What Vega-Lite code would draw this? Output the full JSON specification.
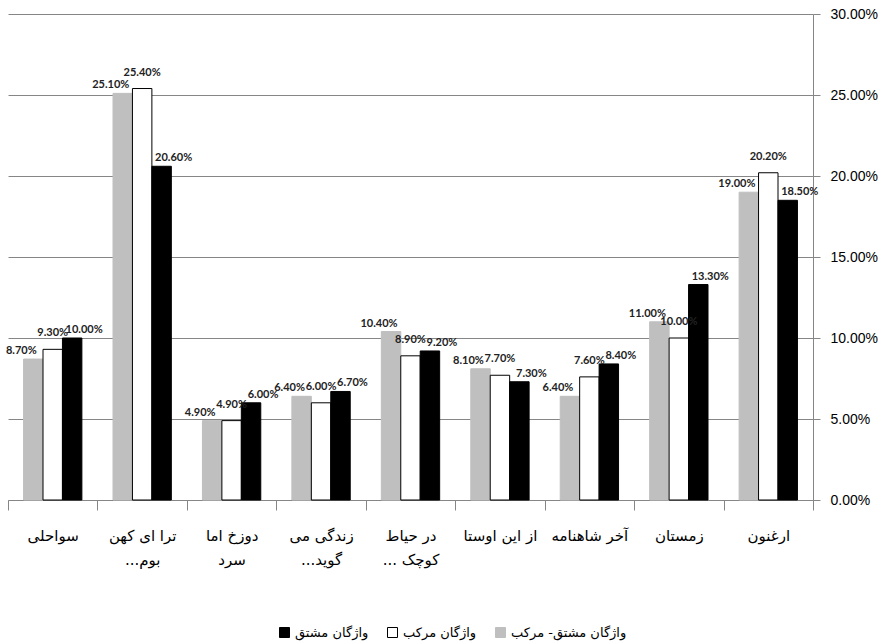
{
  "$schema": "https://vega.github.io/schema/vega-lite/v6.json",
  "width": 805,
  "height": 486,
  "autosize": "none",
  "padding": {"left": 8, "top": 14, "right": 69, "bottom": 144},
  "background": "white",
  "data": {
    "values": [
      {"cat": "سواحلی", "series": "واژگان مشتق- مرکب", "value": 0.087},
      {"cat": "سواحلی", "series": "واژگان مرکب", "value": 0.093},
      {"cat": "سواحلی", "series": "واژگان مشتق", "value": 0.100},
      {"cat": "ترا ای کهن\nبوم...", "series": "واژگان مشتق- مرکب", "value": 0.251},
      {"cat": "ترا ای کهن\nبوم...", "series": "واژگان مرکب", "value": 0.254},
      {"cat": "ترا ای کهن\nبوم...", "series": "واژگان مشتق", "value": 0.206},
      {"cat": "دوزخ اما\nسرد", "series": "واژگان مشتق- مرکب", "value": 0.049},
      {"cat": "دوزخ اما\nسرد", "series": "واژگان مرکب", "value": 0.049},
      {"cat": "دوزخ اما\nسرد", "series": "واژگان مشتق", "value": 0.060},
      {"cat": "زندگی می\nگوید...", "series": "واژگان مشتق- مرکب", "value": 0.064},
      {"cat": "زندگی می\nگوید...", "series": "واژگان مرکب", "value": 0.060},
      {"cat": "زندگی می\nگوید...", "series": "واژگان مشتق", "value": 0.067},
      {"cat": "در حیاط\nکوچک ...", "series": "واژگان مشتق- مرکب", "value": 0.104},
      {"cat": "در حیاط\nکوچک ...", "series": "واژگان مرکب", "value": 0.089},
      {"cat": "در حیاط\nکوچک ...", "series": "واژگان مشتق", "value": 0.092},
      {"cat": "از این اوستا", "series": "واژگان مشتق- مرکب", "value": 0.081},
      {"cat": "از این اوستا", "series": "واژگان مرکب", "value": 0.077},
      {"cat": "از این اوستا", "series": "واژگان مشتق", "value": 0.073},
      {"cat": "آخر شاهنامه", "series": "واژگان مشتق- مرکب", "value": 0.064},
      {"cat": "آخر شاهنامه", "series": "واژگان مرکب", "value": 0.076},
      {"cat": "آخر شاهنامه", "series": "واژگان مشتق", "value": 0.084},
      {"cat": "زمستان", "series": "واژگان مشتق- مرکب", "value": 0.110},
      {"cat": "زمستان", "series": "واژگان مرکب", "value": 0.100},
      {"cat": "زمستان", "series": "واژگان مشتق", "value": 0.133},
      {"cat": "ارغنون", "series": "واژگان مشتق- مرکب", "value": 0.190},
      {"cat": "ارغنون", "series": "واژگان مرکب", "value": 0.202},
      {"cat": "ارغنون", "series": "واژگان مشتق", "value": 0.185}
    ]
  },
  "encoding": {
    "x": {
      "field": "cat",
      "type": "nominal",
      "sort": null,
      "title": null,
      "scale": {"paddingInner": 0, "paddingOuter": 0},
      "axis": {
        "labelAngle": 0,
        "labelFont": "DejaVu Sans",
        "labelFontSize": 15,
        "labelColor": "#000000",
        "labelPadding": 18,
        "labelLineHeight": 24,
        "labelLimit": 0,
        "labelBaseline": "top",
        "labelExpr": "split(replace(datum.label + '\u200f', '\\n', '\u200f\\n'), '\\n')",
        "domainColor": "#868686",
        "tickColor": "#868686",
        "tickSize": 10,
        "tickBand": "extent",
        "bandPosition": 0
      }
    },
    "xOffset": {
      "field": "series",
      "type": "nominal",
      "sort": ["واژگان مشتق- مرکب", "واژگان مرکب", "واژگان مشتق"],
      "scale": {"paddingInner": 0, "paddingOuter": 0.8}
    },
    "y": {
      "field": "value",
      "type": "quantitative",
      "title": null,
      "scale": {"domain": [0, 0.3]},
      "axis": {
        "orient": "right",
        "values": [0, 0.05, 0.1, 0.15, 0.2, 0.25, 0.3],
        "format": ".2%",
        "labelFont": "Liberation Sans",
        "labelFontSize": 14,
        "labelColor": "#000000",
        "labelPadding": 10,
        "grid": true,
        "gridColor": "#868686",
        "domainColor": "#868686",
        "tickColor": "#868686",
        "tickSize": 7
      }
    }
  },
  "layer": [
    {
      "mark": {"type": "bar", "strokeWidth": 1},
      "encoding": {
        "color": {
          "field": "series",
          "type": "nominal",
          "title": null,
          "scale": {
            "domain": ["واژگان مشتق", "واژگان مرکب", "واژگان مشتق- مرکب"],
            "range": ["#000000", "#ffffff", "#bfbfbf"]
          },
          "legend": {
            "orient": "none",
            "legendX": 270,
            "legendY": 612,
            "direction": "horizontal",
            "gridAlign": "none",
            "symbolType": "square",
            "symbolSize": 100,
            "symbolStrokeWidth": 1,
            "labelFont": "DejaVu Sans",
            "labelFontSize": 13,
            "labelColor": "#000000",
            "labelOffset": 4,
            "columnPadding": 16,
            "labelLimit": 0,
            "padding": 0
          }
        },
        "stroke": {
          "field": "series",
          "type": "nominal",
          "scale": {
            "domain": ["واژگان مشتق", "واژگان مرکب", "واژگان مشتق- مرکب"],
            "range": ["#000000", "#000000", "#bfbfbf"]
          },
          "legend": null
        }
      }
    },
    {
      "transform": [{"filter": "datum.series === 'واژگان مشتق- مرکب'"}],
      "mark": {"type": "text", "dx": -12, "dy": -8, "font": "Lato", "fontSize": 11, "fontWeight": "bold", "color": "#222222"},
      "encoding": {
        "text": {"field": "value", "type": "quantitative", "format": ".2%"}
      }
    },
    {
      "transform": [{"filter": "datum.series === 'واژگان مرکب'"}],
      "mark": {"type": "text", "dx": 0, "dy": -16, "font": "Lato", "fontSize": 11, "fontWeight": "bold", "color": "#222222"},
      "encoding": {
        "text": {"field": "value", "type": "quantitative", "format": ".2%"}
      }
    },
    {
      "transform": [{"filter": "datum.series === 'واژگان مشتق'"}],
      "mark": {"type": "text", "dx": 12, "dy": -8, "font": "Lato", "fontSize": 11, "fontWeight": "bold", "color": "#222222"},
      "encoding": {
        "text": {"field": "value", "type": "quantitative", "format": ".2%"}
      }
    }
  ],
  "config": {
    "view": {"stroke": null}
  }
}
